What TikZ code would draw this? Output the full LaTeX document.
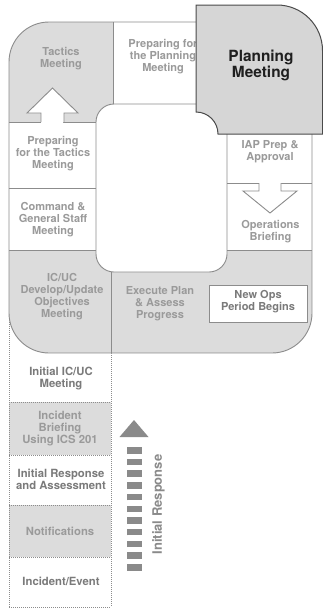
\documentclass[tikz,border=0pt]{standalone}
\usepackage{fontspec}
\setmainfont{TeX Gyre Heros}
\definecolor{cellgray}{HTML}{DCDCDC}
\definecolor{plangray}{HTML}{D6D6D6}
\definecolor{bordgray}{HTML}{8C8C8C}
\definecolor{txtgray}{HTML}{9A9A9A}
\definecolor{darktxt}{HTML}{7A7A7A}
\definecolor{arrgray}{HTML}{8A8A8A}
\definecolor{planedge}{HTML}{4A4A4A}
\begin{document}
\begin{tikzpicture}[x=1pt,y=-1pt,
  solidline/.style={draw=bordgray, line width=0.9pt},
  dotline/.style={draw=bordgray, line width=0.8pt, dash pattern=on 1pt off 1pt},
  lbl/.style={text=txtgray, font=\bfseries\fontsize{11}{12}\selectfont, align=center, inner sep=0pt},
  dlbl/.style={lbl, text=darktxt, font=\bfseries\fontsize{11.3}{12}\selectfont},
  glbl/.style={lbl, font=\bfseries\fontsize{11.3}{12}\selectfont},
  hollowarrow/.style={fill=white, draw=bordgray, line width=0.9pt, line join=miter}]
\useasboundingbox (0,0) rectangle (323,608);
\fill[white] (0,0) rectangle (323,608);

% ---- dotted initial-response column ----
\fill[cellgray] (9,402) rectangle (111,455);
\fill[cellgray] (9,505) rectangle (111,557);
\draw[dotline] (9,300) -- (9,607);
\draw[dotline] (111,353) -- (111,607);
\foreach \yy in {402,455,505,557,607} \draw[dotline] (9,\yy) -- (111,\yy);

% ---- ring ----
\begin{scope}
  \clip[rounded corners=40] (9,22) rectangle (312,353);
  \fill[white] (9,22) rectangle (312,353);
  \fill[cellgray] (9,22) rectangle (113,122);
  \fill[cellgray] (9,250) rectangle (312,353);
\end{scope}
\draw[solidline, rounded corners=40] (9,22) rectangle (312,353);
\filldraw[fill=white, solidline, rounded corners=18] (96,104) rectangle (227,272);

% dividers
\draw[solidline] (113,22) -- (113,104);
\draw[solidline] (9,122) -- (41,122);
\draw[solidline] (63,122) -- (96,122);
\draw[solidline] (9,188) -- (96,188);
\draw[solidline] (9,250) -- (96,250);
\draw[solidline] (111,272) -- (111,353);
\draw[solidline] (227,183) -- (259,183);
\draw[solidline] (281,183) -- (312,183);
\draw[solidline] (227,250) -- (312,250);

% hollow arrows
\filldraw[hollowarrow] (41,122) -- (41,113) -- (27,113) -- (52.5,88) -- (78,113) -- (64,113) -- (64,122);
\filldraw[hollowarrow] (259,183) -- (259,191) -- (243,191) -- (270,213) -- (297,191) -- (281,191) -- (281,183);

% new ops box
\node[draw=bordgray, line width=0.9pt, fill=white, minimum width=98pt, minimum height=37pt, inner sep=0pt] (newopsbox) at (258,303.5) {};

% labels in the ring
\node[lbl] (tactics) at (61,59) {Tactics\\Meeting};
\node[lbl] (prepplan) at (163,57) {Preparing for\\the Planning\\Meeting};
\node[lbl] (preptac) at (53,154) {Preparing\\for the Tactics\\Meeting};
\node[lbl] (cgs) at (53,220) {Command \&\\General Staff\\Meeting};
\node[lbl] (iap) at (270,151.5) {IAP Prep \&\\Approval};
\node[lbl] (opsbrief) at (270.5,232) {Operations\\Briefing};
\node[lbl] (icuc) at (62,297) {IC/UC\\Develop/Update\\Objectives\\Meeting};
\node[lbl] (execute) at (160,304) {Execute Plan\\\& Assess\\Progress};
\node[lbl, text=darktxt] (newops) at (258,302) {New Ops\\Period Begins};

% labels in the dotted column
\node[dlbl] (initmeet) at (61,378.5) {Initial IC/UC\\Meeting};
\node[glbl] (briefing) at (60,429) {Incident\\Briefing\\Using ICS 201};
\node[dlbl] (initresp) at (61,479.5) {Initial Response\\and Assessment};
\node[glbl] (notif) at (60,531) {Notifications};
\node[dlbl] (event) at (61,581) {Incident/Event};

% initial response arrow
\fill[arrgray] (119.5,437) -- (148.5,437) -- (134,420) -- cycle;
\draw[arrgray, line width=15pt, dash pattern=on 6.5pt off 5.2pt] (134,570.5) -- (134,447);
\node[rotate=90, text=arrgray, font=\bfseries\fontsize{13}{14}\selectfont, inner sep=0pt] (irlabel) at (158.5,504.5) {Initial Response};

% planning meeting box (on top)
\filldraw[fill=plangray, draw=planedge, line width=1pt]
  (196,5) -- (277,5) .. controls (302.1,5) and (322.5,25.4) .. (322.5,50.5)
  -- (322.5,134) -- (218,134) .. controls (218,121.85) and (208.15,112) .. (196,112) -- cycle;
\node[text=black!88, font=\bfseries\fontsize{15.4}{16}\selectfont, align=center, inner sep=0pt] (planning) at (261,65) {Planning\\Meeting};
\end{tikzpicture}
\end{document}
